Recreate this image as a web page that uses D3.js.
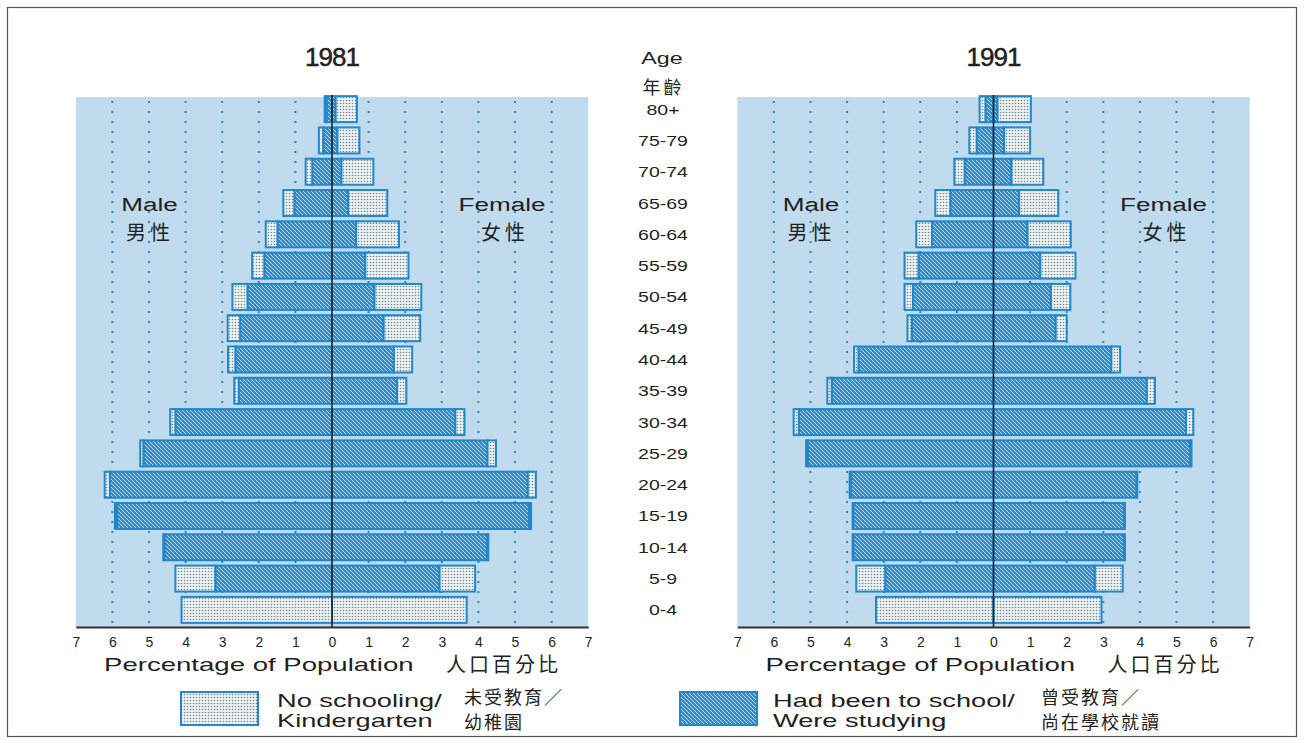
<!DOCTYPE html>
<html><head><meta charset="utf-8">
<script src="https://cdn.jsdelivr.net/npm/d3@7"></script>
<style>body{margin:0;background:#fff}svg{display:block}</style>
</head><body>
<svg id="c" width="1304" height="743"></svg>
<script>
// ---------------- DATA ----------------
const ages = ["80+","75-79","70-74","65-69","60-64","55-59","50-54","45-49","40-44","35-39","30-34","25-29","20-24","15-19","10-14","5-9","0-4"];
const years = ["1981","1991"];
// percentage of population, ordered as ages (80+ first)
const male1981NoSchool   = [0.05,0.12,0.18,0.30,0.32,0.33,0.41,0.34,0.20,0.12,0.14,0.09,0.14,0.05,0.03,1.09,4.11];
const male1981School     = [0.15,0.24,0.54,1.03,1.49,1.85,2.31,2.51,2.64,2.55,4.28,5.15,6.07,5.88,4.58,3.19,0];
const female1981School   = [0.10,0.15,0.26,0.44,0.66,0.91,1.16,1.41,1.69,1.78,3.37,4.25,5.35,5.39,4.24,2.94,0];
const female1981NoSchool = [0.58,0.60,0.87,1.07,1.17,1.18,1.28,1.00,0.50,0.25,0.25,0.23,0.22,0.05,0.03,0.97,3.68];
const male1991NoSchool   = [0.16,0.20,0.28,0.41,0.43,0.38,0.23,0.12,0.12,0.12,0.14,0.04,0.03,0.02,0.02,0.79,3.21];
const male1991School     = [0.22,0.46,0.79,1.18,1.68,2.05,2.20,2.23,3.69,4.42,5.32,5.08,3.90,3.83,3.83,2.96,0];
const female1991School   = [0.11,0.29,0.49,0.70,0.93,1.28,1.57,1.70,3.22,4.19,5.26,5.38,3.91,3.57,3.57,2.77,0];
const female1991NoSchool = [0.91,0.71,0.87,1.07,1.18,0.96,0.53,0.30,0.24,0.22,0.20,0.03,0.02,0.02,0.02,0.76,2.95];
const tickValues = [-7,-6,-5,-4,-3,-2,-1,0,1,2,3,4,5,6,7];
const gridValues = [-6,-5,-4,-3,-2,-1,1,2,3,4,5,6];
const legendEn = [["No schooling/","Kindergarten"],["Had been to school/","Were studying"]];
const legendZh = [["未受教育／","幼稚園"],["曾受教育／","尚在學校就讀"]];

// ---------------- SETUP ----------------
const EN = "'Liberation Sans', Arial, Helvetica, sans-serif";
const ZH = "'Noto Sans CJK TC','Noto Sans CJK SC',sans-serif";
const INK = "#231f20";
const BLUE = "#1f87ca";
const STRETCH = 1.45;
const svg = d3.select("#c");

svg.append("rect").attr("x",7.5).attr("y",7.5).attr("width",1289).attr("height",729)
  .attr("fill","none").attr("stroke","#555").attr("stroke-width",1.2);

const defs = svg.append("defs");
const pDot = defs.append("pattern").attr("id","dots").attr("patternUnits","userSpaceOnUse").attr("width",3).attr("height",3);
pDot.append("rect").attr("width",3).attr("height",3).attr("fill","#eef2f1");
pDot.append("circle").attr("cx",1.5).attr("cy",1.5).attr("r",0.8).attr("fill","#6f8794");
const pHatch = defs.append("pattern").attr("id","hatch").attr("patternUnits","userSpaceOnUse").attr("width",4).attr("height",4);
pHatch.append("rect").attr("width",4).attr("height",4).attr("fill","#2e8cd0");
pHatch.append("path").attr("d","M-1,-1L5,5M-1,3L1,5M3,-1L5,1").attr("stroke","#b8dcf3").attr("stroke-width",1);

function wideText(g, str, x, y, size, anchor, factor) {
  const t = g.append("text").attr("x", x).attr("y", y).attr("font-size", size)
    .attr("font-family", EN).attr("fill", INK).text(str);
  const w = t.node().getComputedTextLength() * (factor || STRETCH);
  const x0 = anchor === "middle" ? x - w/2 : x;
  t.attr("x", x0).attr("textLength", w).attr("lengthAdjust", "spacingAndGlyphs");
  return t;
}
function zhText(g, str, x, y, size, anchor, ls) {
  return g.append("text").attr("x", x + (anchor==="middle" ? (ls||0)/2 : 0)).attr("y", y)
    .attr("font-size", size).attr("font-family", ZH).attr("fill", INK)
    .attr("letter-spacing", ls||0).attr("text-anchor", anchor||"start").text(str);
}

const panelTop = 97, panelBottom = 627;
const y = d3.scaleBand().domain(ages).range([93.5, 625.5]).paddingInner(0.17).paddingOuter(0.085);
const unit = 36.6;
const centers = [332, 993.5];
const data = [
  {male:{no:male1981NoSchool, sc:male1981School}, female:{no:female1981NoSchool, sc:female1981School}},
  {male:{no:male1991NoSchool, sc:male1991School}, female:{no:female1991NoSchool, sc:female1991School}}
];

centers.forEach((cx, pi) => {
  const x = d3.scaleLinear().domain([-7,7]).range([cx - 7*unit, cx + 7*unit]);
  const g = svg.append("g");
  g.append("rect").attr("x", x(-7)).attr("y", panelTop).attr("width", x(7)-x(-7))
    .attr("height", panelBottom - panelTop).attr("fill", "#c0dbee");
  g.selectAll("line.grid").data(gridValues).join("line").attr("class","grid")
    .attr("x1", d => x(d)).attr("x2", d => x(d)).attr("y1", panelTop + 4).attr("y2", panelBottom)
    .attr("stroke", "#2a89cb").attr("stroke-width", 2).attr("stroke-dasharray", "2,8");

  const d = data[pi];
  const segs = [];
  ages.forEach((a, i) => {
    const ms = d.male.sc[i], mn = d.male.no[i], fs = d.female.sc[i], fn = d.female.no[i];
    segs.push({a, x0: -ms, x1: 0, t: "hatch"});
    segs.push({a, x0: -(ms+mn), x1: -ms, t: "dots"});
    segs.push({a, x0: 0, x1: fs, t: "hatch"});
    segs.push({a, x0: fs, x1: fs+fn, t: "dots"});
  });
  g.selectAll("rect.bar").data(segs.filter(s => s.x1 - s.x0 > 0)).join("rect").attr("class","bar")
    .attr("x", s => x(s.x0)).attr("width", s => x(s.x1) - x(s.x0))
    .attr("y", s => y(s.a)).attr("height", y.bandwidth())
    .attr("fill", s => `url(#${s.t})`).attr("stroke", BLUE).attr("stroke-width", 2);

  g.append("line").attr("x1", x(0)).attr("x2", x(0)).attr("y1", panelTop - 2).attr("y2", panelBottom)
    .attr("stroke", "#222").attr("stroke-width", 1.6);

  const ax = g.append("g").attr("transform", `translate(0,${panelBottom})`)
    .call(d3.axisBottom(x).tickValues(tickValues).tickFormat(v => Math.abs(v)).tickSize(0).tickSizeOuter(0).tickPadding(10));
  ax.select(".domain").attr("stroke", "#333").attr("stroke-width", 2);
  ax.selectAll("text").attr("font-size", 14).attr("font-family", EN).attr("fill", INK);

  // title
  g.append("text").attr("x", cx).attr("y", 66).attr("text-anchor","middle").attr("font-size", 26)
    .attr("font-family", EN).attr("fill", INK).attr("stroke", INK).attr("stroke-width", 0.5)
    .attr("letter-spacing", -1).text(years[pi]);

  // Male / Female
  wideText(g, "Male", cx - 182.5, 211, 18, "middle");
  zhText(g, "男性", cx - 184, 240, 20, "middle", 4);
  wideText(g, "Female", cx + 170, 211, 18, "middle");
  zhText(g, "女性", cx + 171, 240, 20, "middle", 4);

  // axis titles
  wideText(g, "Percentage of Population", cx - 228, 671, 18.5, "start", 1.49);
  zhText(g, "人口百分比", cx + 114, 672, 20, "start", 3);
});

// Age labels
const ag = svg.append("g");
wideText(ag, "Age", 662, 64, 16, "middle");
zhText(ag, "年齡", 662, 94, 18, "middle", 3);
ages.forEach(a => wideText(ag, a, 663, y(a) + y.bandwidth()/2 + 5.5, 15, "middle", 1.3));

// Legend
const lg = svg.append("g");
const legX = [181, 680], legTextX = [277, 773], legZhX = [464, 1041];
["dots","hatch"].forEach((p, i) => {
  lg.append("rect").attr("x", legX[i]).attr("y", 692).attr("width", 77).attr("height", 33)
    .attr("fill", `url(#${p})`).attr("stroke", BLUE).attr("stroke-width", 2);
  wideText(lg, legendEn[i][0], legTextX[i], 707, 18.5, "start", 1.47);
  wideText(lg, legendEn[i][1], legTextX[i], 727, 18.5, "start", 1.47);
  zhText(lg, legendZh[i][0], legZhX[i], 704, 18, "start", 2);
  zhText(lg, legendZh[i][1], legZhX[i], 729, 18, "start", 2);
});
</script>
</body></html>
